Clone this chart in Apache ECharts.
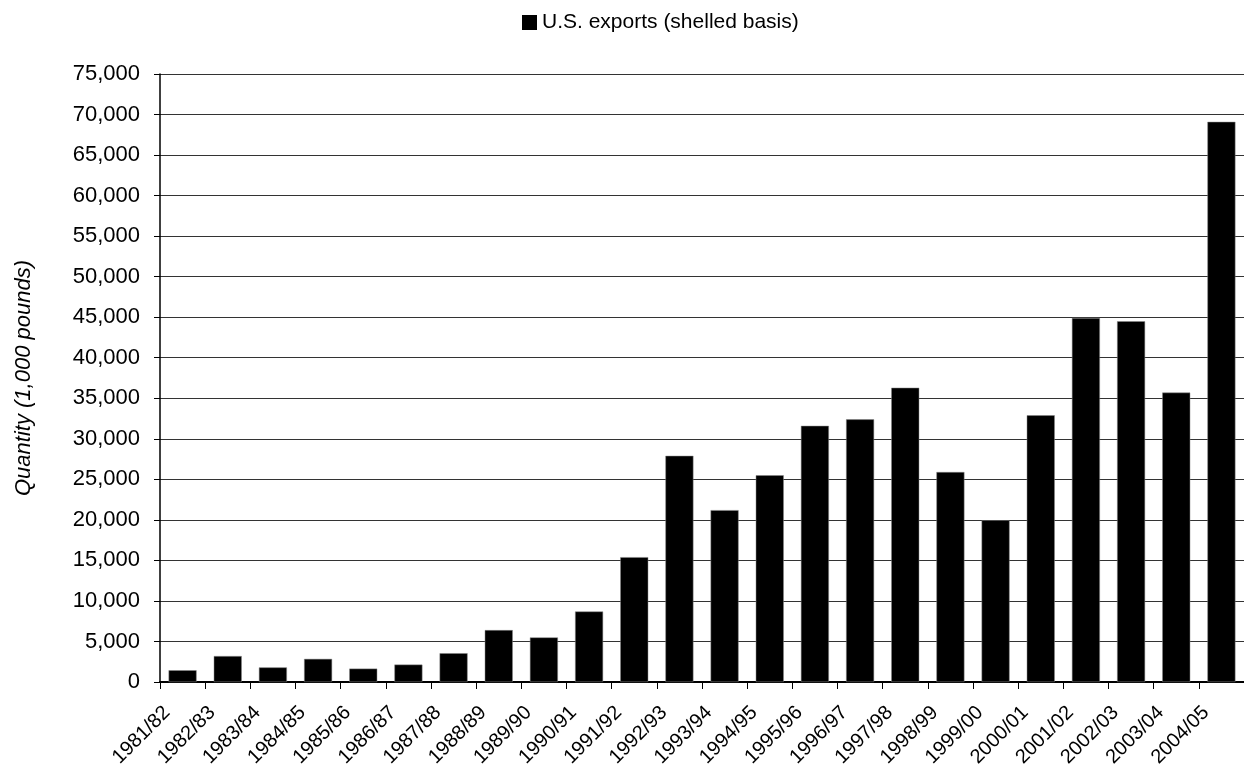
<!DOCTYPE html>
<html>
<head>
<meta charset="utf-8">
<script src="https://cdn.jsdelivr.net/npm/echarts@6/dist/echarts.min.js"></script>
<style>
html,body{margin:0;padding:0;background:#fff;}
#c{width:1244px;height:774px;}
</style>
</head>
<body>
<div id="c"></div>
<script>
const categories = ["1981/82","1982/83","1983/84","1984/85","1985/86","1986/87","1987/88","1988/89","1989/90","1990/91","1991/92","1992/93","1993/94","1994/95","1995/96","1996/97","1997/98","1998/99","1999/00","2000/01","2001/02","2002/03","2003/04","2004/05"];
const exportsShelled = [1450,3200,1800,2850,1650,2150,3550,6400,5500,8700,15400,27900,21200,25500,31600,32400,36300,25900,19950,32900,44900,44500,35700,69100];
const seriesName = "U.S. exports (shelled basis)";
const yAxisTitle = "Quantity (1,000 pounds)";
const yMin = 0, yMax = 75000, yStep = 5000;

const chart = echarts.init(document.getElementById('c'), null, {renderer:'canvas'});
const font = '"Liberation Sans", Arial, sans-serif';
chart.setOption({
  animation:false,
  backgroundColor:'#fff',
  textStyle:{fontFamily:font},
  legend:{
    data:[seriesName],
    left:522, top:12, padding:0,
    icon:'rect', itemWidth:15, itemHeight:15, itemGap:6,
    itemStyle:{borderWidth:0},
    textStyle:{fontFamily:font, fontSize:21, color:'#000'}
  },
  grid:{left:160, right:0, top:74, bottom:92, containLabel:false},
  xAxis:{
    type:'category',
    data:categories,
    boundaryGap:true,
    axisLine:{lineStyle:{color:'#000', width:2}},
    axisTick:{show:true, alignWithLabel:false, length:7, lineStyle:{color:'#000', width:1}},
    axisLabel:{rotate:45, margin:12, fontSize:20, color:'#000', fontFamily:font, interval:0,
      padding:[0,22,0,0]},
    splitLine:{show:false}
  },
  yAxis:{
    type:'value',
    min:yMin, max:yMax, interval:yStep,
    name:yAxisTitle,
    nameLocation:'middle',
    nameGap:125,
    nameTextStyle:{fontFamily:font, fontSize:22, fontStyle:'italic', color:'#000'},
    axisLine:{show:true, lineStyle:{color:'#000', width:1.5}},
    axisTick:{show:true, length:6, lineStyle:{color:'#000'}},
    axisLabel:{fontSize:22, color:'#000', fontFamily:font, margin:20,
      formatter:v=>v.toLocaleString('en-US')},
    splitLine:{show:true, lineStyle:{color:'#333', width:1}}
  },
  series:[{
    name:seriesName,
    type:'bar',
    data:exportsShelled,
    barWidth:28,
    itemStyle:{color:'#000', borderColor:'#888', borderWidth:0.5}
  }]
});
</script>
</body>
</html>
